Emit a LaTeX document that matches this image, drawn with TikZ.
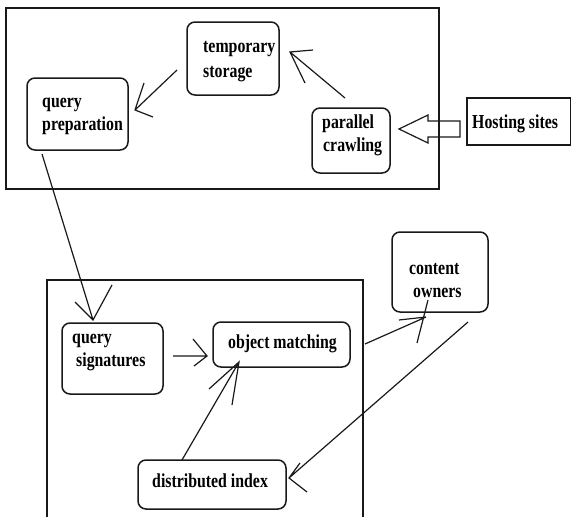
\documentclass[tikz,border=0pt]{standalone}
\usepackage{fontspec}
\newfontfamily\lblfont{Liberation Serif}[FakeStretch=0.8]
\begin{document}
\begin{tikzpicture}[x=1pt,y=-1pt,
  frame/.style={draw=black!90, line width=1.6pt},
  rbox/.style={draw=black!90, line width=1.5pt, rounded corners=8pt, inner sep=0pt, fill=none},
  txt/.style={inner sep=0pt, anchor=base west, font=\lblfont\bfseries\fontsize{19.8}{23}\selectfont, text=black},
  conn/.style={draw=black!90, line width=1.2pt}
]
\useasboundingbox (0,0) rectangle (571,517);
% frames
\draw[frame] (6,8) rectangle (439,189);
\draw[frame] (47,517) -- (47,280) -- (363,280) -- (363,517);
% boxes
\node[rbox, minimum width=92pt, minimum height=73pt] (ts) at (233,58.5) {};
\node[rbox, minimum width=101pt, minimum height=72pt] (qp) at (77.5,114) {};
\node[rbox, minimum width=78pt, minimum height=65pt] (pc) at (351,140.5) {};
\node[draw=black!90, line width=1.5pt, inner sep=0pt, minimum width=104pt, minimum height=47pt] (hs) at (519,121.5) {};
\node[rbox, minimum width=96pt, minimum height=80pt] (co) at (440,272) {};
\node[rbox, minimum width=101pt, minimum height=71pt] (qs) at (112.5,358.5) {};
\node[rbox, minimum width=137pt, minimum height=45pt] (om) at (281.5,344.5) {};
\node[rbox, minimum width=148pt, minimum height=49pt] (di) at (212,484.5) {};
% texts
\node[txt] (t1) at (203,52) {temporary};
\node[txt] (t2) at (203,77) {storage};
\node[txt] (t3) at (42,107) {query};
\node[txt] (t4) at (42,130) {preparation};
\node[txt] (t5) at (322,128) {parallel};
\node[txt] (t6) at (323,151) {crawling};
\node[txt] (t7) at (472,128) {Hosting sites};
\node[txt] (t8) at (409,274) {content};
\node[txt] (t9) at (413,297) {owners};
\node[txt] (t10) at (72,343) {query};
\node[txt] (t11) at (76,366) {signatures};
\node[txt] (t12) at (228,348) {object matching};
\node[txt] (t13) at (152,487) {distributed index};
% connectors
\coordinate (a1s) at (345,98); \coordinate (a1t) at (290,52);
\draw[conn] (a1s) -- (a1t) (313,50) -- (a1t) -- (305,83);
\coordinate (a2s) at (177,70); \coordinate (a2t) at (135,110);
\draw[conn] (a2s) -- (a2t) (144,83) -- (a2t) -- (153,117);
\coordinate (a3s) at (42,154); \coordinate (a3t) at (93,320);
\draw[conn] (a3s) -- (a3t) (75,302) -- (a3t) -- (112,285);
\coordinate (a4s) at (173,356); \coordinate (a4t) at (207,356);
\draw[conn] (a4s) -- (a4t) (193,339) -- (a4t) -- (194,366);
\coordinate (a5s) at (182,460); \coordinate (a5t) at (239,362);
\draw[conn] (a5s) -- (a5t) (209,389) -- (a5t) -- (232,405);
\coordinate (a6s) at (365,344); \coordinate (a6t) at (426,317);
\draw[conn] (a6s) -- (a6t) (399,320) -- (a6t) (417,343) -- (428,300);
\coordinate (a7s) at (468,322); \coordinate (a7t) at (289,478);
\draw[conn] (a7s) -- (a7t) (300,463) -- (a7t) -- (307,492);
% hollow arrow from hosting sites to parallel crawling
\draw[draw=black!90, line width=1.2pt, line join=miter]
  (460,121) -- (428,121) -- (428,115) -- (399,129) -- (428,143) -- (428,137) -- (460,137) -- cycle;
\end{tikzpicture}
\end{document}
